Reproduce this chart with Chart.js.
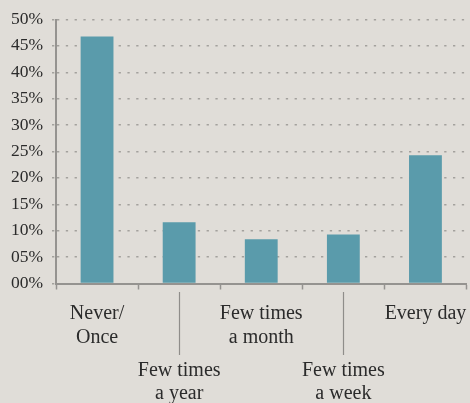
<!DOCTYPE html>
<html><head><meta charset="utf-8">
<script src="https://cdn.jsdelivr.net/npm/chart.js@4/dist/chart.umd.min.js"></script>
<style>html,body{margin:0;padding:0;background:#e0ddd8;}canvas{display:block;}</style>
</head><body>
<canvas id="c" width="470" height="403"></canvas>
<script>
const categories = [["Never/","Once"],["Few times","a year"],["Few times","a month"],["Few times","a week"],["Every day"]];
const values = [46.8, 11.6, 8.4, 9.3, 24.3];
const yTickLabels = ["00%","05%","10%","15%","20%","25%","30%","35%","40%","45%","50%"];

const AXIS = '#959390';
const GRID = '#a3a19d';
const TEXT = '#2b2b2b';
const SERIF = "'Liberation Serif', 'Times New Roman', serif";

const connectors = {
  id: 'connectors',
  afterDraw(chart) {
    const xs = chart.scales.x;
    const ctx = chart.ctx;
    const b = chart.chartArea.bottom;
    ctx.save();
    ctx.strokeStyle = '#8f8d8a';
    ctx.lineWidth = 1.2;
    for (let i = 1; i < categories.length; i += 2) {
      const px = Math.round(xs.getPixelForValue(i)) + 0.5;
      ctx.beginPath();
      ctx.moveTo(px, b + 8.5);
      ctx.lineTo(px, b + 71.5);
      ctx.stroke();
    }
    ctx.restore();
  }
};

new Chart(document.getElementById('c'), {
  type: 'bar',
  data: {
    labels: categories,
    datasets: [{
      data: values,
      backgroundColor: '#5a9bab',
      borderWidth: 0,
      barPercentage: 0.4,
      categoryPercentage: 1.0
    }]
  },
  options: {
    responsive: false,
    animation: false,
    layout: { padding: { top: 19, right: 3.5, left: 0, bottom: 0 } },
    plugins: { legend: { display: false }, tooltip: { enabled: false } },
    scales: {
      x: {
        type: 'category',
        weight: 0,
        offset: true,
        grid: { display: true, offset: true, drawOnChartArea: false, drawTicks: true, tickLength: 6, color: AXIS, tickColor: AXIS, tickWidth: 1.5 },
        border: { display: true, color: AXIS, width: 2 },
        ticks: {
          autoSkip: false, maxRotation: 0, minRotation: 0, padding: 13,
          color: TEXT,
          font: { family: SERIF, size: 20, lineHeight: 1.165 },
          callback: (v, i) => i % 2 === 0 ? categories[i] : ''
        },
        afterFit(s) { s.height = 65; s.paddingLeft = 0; s.paddingRight = 0; }
      },
      x2: {
        type: 'category',
        axis: 'x',
        position: 'bottom',
        weight: 1,
        offset: true,
        grid: { display: false, drawTicks: false, offset: true },
        border: { display: false },
        ticks: {
          autoSkip: false, maxRotation: 0, minRotation: 0, padding: 10.4,
          color: TEXT,
          font: { family: SERIF, size: 20, lineHeight: 1.165 },
          callback: (v, i) => i % 2 === 1 ? categories[i] : ''
        },
        afterFit(s) { s.height = 54.5; s.paddingLeft = 0; s.paddingRight = 0; }
      },
      y: {
        min: 0, max: 50,
        grid: { color: GRID, lineWidth: 1.5, drawTicks: true, tickLength: 4, tickColor: GRID, tickWidth: 1.5, tickBorderDash: [2.3, 6.5] },
        border: { display: true, color: AXIS, width: 2, dash: [2.3, 6.5] },
        ticks: {
          stepSize: 5, padding: 9, color: TEXT,
          font: { family: SERIF, size: 17.5 },
          callback: (v, i) => yTickLabels[i]
        },
        afterFit(s) { s.width = 56; }
      }
    }
  },
  plugins: [connectors]
});
</script>
</body></html>
